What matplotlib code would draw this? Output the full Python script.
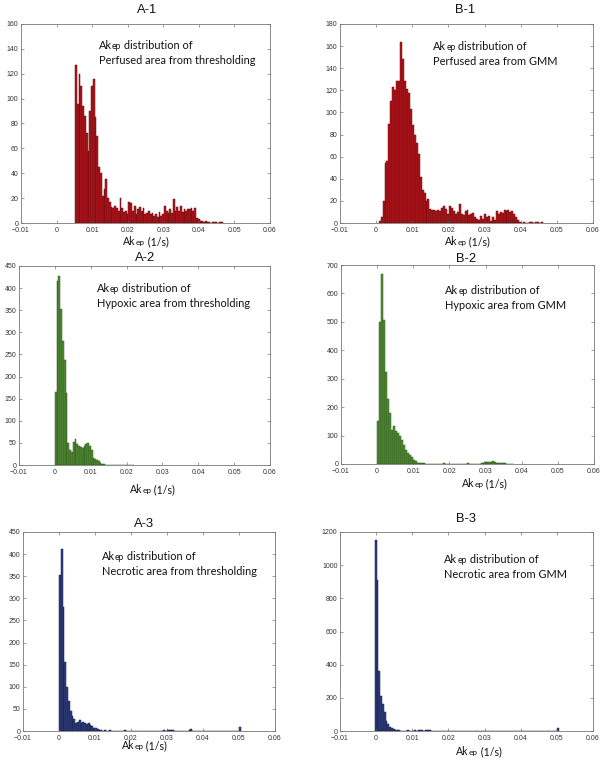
import matplotlib
matplotlib.use("Agg")
import matplotlib.pyplot as plt
import numpy as np

# ---------------- data (histogram counts) ----------------
X_TICKS = [-0.01, 0.0, 0.01, 0.02, 0.03, 0.04, 0.05, 0.06]
X_TICK_LABELS = ["\u22120.01", "0", "0.01", "0.02", "0.03", "0.04", "0.05", "0.06"]

# A-1 : perfused, thresholding
A1_BIN_START, A1_BIN_WIDTH = 0.0052, 0.0005
A1_COUNTS = [127, 96, 120, 110, 94, 86, 72, 58, 90, 110, 116, 85, 70, 45, 40, 22, 27, 35, 20, 17,
             13, 12, 14, 12, 10, 20, 12, 9, 10, 7,
             17, 16, 10, 14, 7, 11, 13, 10, 12, 7, 8, 10, 7, 8, 6, 7, 5, 9, 6, 7, 14, 10, 8, 11, 8, 19,
             10, 13, 10, 14, 9, 11, 10, 11, 11, 12, 10, 12,
             4, 3, 2, 2, 1, 2, 1, 1, 0, 1, 1, 1, 0, 1, 1]
A1_YTICKS = list(range(0, 161, 20))

# B-1 : perfused, GMM
B1_BIN_START, B1_BIN_WIDTH = 0.0007, 0.00054
B1_COUNTS = [2, 5, 20, 54, 56, 90, 110, 123, 120, 128, 128, 164, 148, 128, 121, 118, 103, 89, 80, 72,
             62, 42, 30, 27, 20, 22, 13, 12, 12, 11, 12, 11, 14, 15, 13, 8, 15, 14, 11, 8,
             10, 17, 8, 7, 11, 12, 7, 8, 9, 5, 4, 3, 6, 4, 8, 5, 6, 2, 5, 3,
             11, 8, 10, 9, 12, 11, 12, 10, 11, 8, 5, 3, 1, 0, 1, 0, 0, 1, 1, 0,
             1, 1, 0, 1]
B1_YTICKS = list(range(0, 181, 20))

# A-2 : hypoxic, thresholding
A2_BIN_START, A2_BIN_WIDTH = 0.0, 0.0005
A2_COUNTS = [165, 415, 427, 352, 280, 237, 162, 49, 35, 30, 53, 58, 47, 44, 41, 38, 44, 48, 50, 44,
             34, 15, 14, 11, 8, 5, 3, 2, 1, 1, 0, 1, 0, 0, 1, 1, 1, 0, 0, 1, 0, 0, 1, 0]
A2_YTICKS = list(range(0, 451, 50))

# B-2 : hypoxic, GMM
B2_BIN_START, B2_BIN_WIDTH = 0.0, 0.00055
B2_COUNTS = [153, 501, 668, 507, 322, 228, 179, 121, 132, 115, 109, 97, 85, 68, 50, 39, 33, 23, 15, 9,
             4, 3, 2, 2, 1, 1, 0, 1, 0, 1, 0, 0, 1, 3, 1, 0, 0, 0, 0, 0,
             0, 0, 0, 0, 1, 2, 1, 0, 1, 1, 0, 1, 2, 4, 6, 7, 8, 7, 9, 6,
             5, 4, 3, 2, 2, 1, 1, 0, 1]
B2_YTICKS = list(range(0, 701, 100))

# A-3 : necrotic, thresholding
A3_BIN_START, A3_BIN_WIDTH = 0.0, 0.0005
A3_COUNTS = [353, 412, 280, 157, 100, 68, 45, 33, 28, 17, 20, 26, 18, 20, 17, 15, 18, 13, 11, 7,
             6, 4, 2, 3, 1, 2, 1, 1, 2, 1, 0, 1, 0, 1, 0, 1, 2, 0, 1, 0,
             0, 1, 0, 0, 0, 0, 0, 0, 1, 0, 0, 1, 0, 0, 0, 1, 1, 1, 2, 1,
             2, 2, 3, 2, 1, 1, 0, 1, 0, 0, 0, 1, 3, 4, 1, 0, 0, 0, 1, 0,
             1, 0, 0, 0, 1, 0, 0, 0, 0, 0, 0, 0, 0, 0, 0, 0, 0, 0, 0, 0,
             8]
A3_YTICKS = list(range(0, 451, 50))

# B-3 : necrotic, GMM
B3_BIN_START, B3_BIN_WIDTH = -0.0004, 0.0005
B3_COUNTS = [1150, 910, 360, 210, 165, 115, 62, 40, 25, 18, 12, 8, 5, 4, 3, 2, 3, 2, 4, 2,
             3, 2, 4, 3, 4, 5, 4, 3, 5, 5, 4, 3, 2, 2, 1, 2, 1, 1, 2, 1,
             1, 1, 1, 1, 0, 1, 1, 0, 1, 1, 1, 0, 1, 0, 1, 1, 0, 1, 0, 1,
             1, 0, 1, 1, 0, 1, 0, 1, 0, 0, 1, 0, 1, 0, 0, 1, 0, 0, 0, 1,
             0, 0, 0, 0, 1, 0, 0, 0, 0, 0, 0, 0, 0, 0, 0, 0, 0, 0, 0, 0,
             0, 20]
B3_YTICKS = list(range(0, 1201, 200))

TITLES = ["A-1", "B-1", "A-2", "B-2", "A-3", "B-3"]
NOTE_LINE2 = ["Perfused area from thresholding", "Perfused area from GMM",
              "Hypoxic area from thresholding", "Hypoxic area from GMM",
              "Necrotic area from thresholding", "Necrotic area from GMM"]

# ---------------- styling / layout ----------------
W, H = 603, 763
fig = plt.figure(figsize=(W / 100, H / 100), dpi=100)

RED = ("#b3171c", "#6a0a0c")
GREEN = ("#55913a", "#2a5218")
BLUE = ("#2f3f80", "#161f4a")

NOTE_FONT = "Lato"
TICK_FONT = "Liberation Sans"


def rect(l, t, r, b):
    return [l / W, 1 - b / H, (r - l) / W, (b - t) / H]


panels = [
    dict(rect=rect(21, 24, 270, 223), start=A1_BIN_START, width=A1_BIN_WIDTH, counts=A1_COUNTS,
         yticks=A1_YTICKS, col=RED, title_xy=(147, 12.7), note_xy=(0.313, 0.873), xl_xy=(0.411, -0.11)),
    dict(rect=rect(340, 24, 593, 223), start=B1_BIN_START, width=B1_BIN_WIDTH, counts=B1_COUNTS,
         yticks=B1_YTICKS, col=RED, title_xy=(465, 12.7), note_xy=(0.368, 0.868), xl_xy=(0.415, -0.11)),
    dict(rect=rect(19, 266, 270, 465), start=A2_BIN_START, width=A2_BIN_WIDTH, counts=A2_COUNTS,
         yticks=A2_YTICKS, col=GREEN, title_xy=(145, 261), note_xy=(0.31, 0.869), xl_xy=(0.442, -0.14)),
    dict(rect=rect(341, 265, 594, 464), start=B2_BIN_START, width=B2_BIN_WIDTH, counts=B2_COUNTS,
         yticks=B2_YTICKS, col=GREEN, title_xy=(465.7, 261.7), note_xy=(0.412, 0.852), xl_xy=(0.478, -0.115)),
    dict(rect=rect(23, 532, 275, 731), start=A3_BIN_START, width=A3_BIN_WIDTH, counts=A3_COUNTS,
         yticks=A3_YTICKS, col=BLUE, title_xy=(144, 527), note_xy=(0.313, 0.857), xl_xy=(0.392, -0.092)),
    dict(rect=rect(340, 532, 593, 731), start=B3_BIN_START, width=B3_BIN_WIDTH, counts=B3_COUNTS,
         yticks=B3_YTICKS, col=BLUE, title_xy=(465.7, 522), note_xy=(0.412, 0.843), xl_xy=(0.46, -0.122)),
]

NOTE_FS = 7.9
XL_FS = 7.6


def ak_text(ax, x, y, rest, fs):
    t1 = ax.text(x, y, "Ak", transform=ax.transAxes, fontsize=fs, family=NOTE_FONT,
                 va="baseline", ha="left", color="#111111")
    t2 = ax.annotate("ep", xy=(1, y), xycoords=(t1, "axes fraction"), fontsize=fs * 0.78,
                     family=NOTE_FONT, va="baseline", ha="left", color="#111111")
    ax.annotate(rest, xy=(1, y), xycoords=(t2, "axes fraction"), fontsize=fs, family=NOTE_FONT,
                va="baseline", ha="left", color="#111111")


for i, p in enumerate(panels):
    ax = fig.add_axes(p["rect"])
    counts = np.asarray(p["counts"], dtype=float)
    edges = p["start"] + p["width"] * np.arange(len(counts))
    ax.bar(edges, counts, width=p["width"], align="edge", color=p["col"][0],
           edgecolor=p["col"][1], linewidth=0.35)
    ax.set_xlim(-0.01, 0.06)
    ax.set_ylim(p["yticks"][0], p["yticks"][-1])
    ax.set_xticks(X_TICKS)
    ax.set_xticklabels(X_TICK_LABELS, family=TICK_FONT)
    ax.set_yticks(p["yticks"])
    ax.set_yticklabels([str(v) for v in p["yticks"]], family=TICK_FONT)
    ax.tick_params(direction="in", length=2.2, width=0.4, top=True, right=True,
                   labelsize=5, colors="#555555", labelcolor="#333333")
    ax.tick_params(axis="x", pad=2.6)
    ax.tick_params(axis="y", pad=1.8)
    for s in ax.spines.values():
        s.set_color("#777777")
        s.set_linewidth(0.6)
    ax.set_facecolor("white")

    # title
    tx, ty = p["title_xy"]
    fig.text(tx / W, 1 - ty / H, TITLES[i], ha="center", va="baseline",
             fontsize=9.3, family="Liberation Sans", color="#111111")

    # annotation (two lines)
    nx, ny = p["note_xy"]
    ak_text(ax, nx, ny, " distribution of", NOTE_FS)
    ax.text(nx, ny - 15 / 199, NOTE_LINE2[i], transform=ax.transAxes, fontsize=NOTE_FS,
            family=NOTE_FONT, va="baseline", ha="left", color="#111111")

    # x label
    xx, xy = p["xl_xy"]
    ak_text(ax, xx, xy, " (1/s)", XL_FS)

fig.savefig("out.png", dpi=100, facecolor="white")
